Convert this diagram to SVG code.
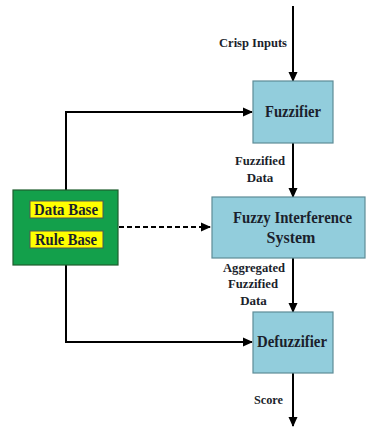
<svg xmlns="http://www.w3.org/2000/svg" width="367" height="427" viewBox="0 0 367 427">
<defs>
<marker id="ah" markerWidth="10" markerHeight="10" refX="9" refY="5" orient="auto" markerUnits="userSpaceOnUse">
<path d="M0,0.5 L10,5 L0,9.5 Z" fill="#000"/>
</marker>
<style>
.box{fill:#92CDDC;stroke:#5E8C97;stroke-width:1.2}
.t{font-family:"Liberation Serif","Times New Roman",serif;font-weight:bold;fill:#1b1f2c;text-anchor:middle}
.big{font-size:16px}
.sm{font-size:13px}
.ln{fill:none;stroke:#000;stroke-width:2}
</style>
</defs>
<rect width="367" height="427" fill="#fff"/>
<g id="connectors">
<line class="ln" x1="293" y1="6" x2="293" y2="81" marker-end="url(#ah)"/>
<line class="ln" x1="293" y1="143" x2="293" y2="197" marker-end="url(#ah)"/>
<line class="ln" x1="293" y1="258" x2="293" y2="312" marker-end="url(#ah)"/>
<line class="ln" x1="293" y1="373" x2="293" y2="426" marker-end="url(#ah)"/>
<polyline class="ln" points="66,190 66,112 252,112" marker-end="url(#ah)"/>
<polyline class="ln" points="66,265 66,342 252,342" marker-end="url(#ah)"/>
<line class="ln" x1="119" y1="227" x2="210" y2="227" stroke-dasharray="5,3" marker-end="url(#ah)"/>
<text class="t sm" x="253" y="47" textLength="68" lengthAdjust="spacingAndGlyphs">Crisp Inputs</text>
<text class="t sm" x="260" y="165" textLength="50" lengthAdjust="spacingAndGlyphs">Fuzzified</text>
<text class="t sm" x="260" y="182">Data</text>
<text class="t sm" x="254" y="272" textLength="62" lengthAdjust="spacingAndGlyphs">Aggregated</text>
<text class="t sm" x="253" y="288" textLength="50" lengthAdjust="spacingAndGlyphs">Fuzzified</text>
<text class="t sm" x="253.5" y="305">Data</text>
<text class="t sm" x="268.5" y="404" textLength="29" lengthAdjust="spacingAndGlyphs">Score</text>
</g>
<g id="fuzzifier">
<rect class="box" x="253" y="81" width="80" height="62"/>
<text class="t big" x="293" y="117" textLength="56" lengthAdjust="spacingAndGlyphs">Fuzzifier</text>
</g>
<g id="fis">
<rect class="box" x="212" y="197" width="153" height="61"/>
<text class="t big" x="292.5" y="222.5" textLength="119" lengthAdjust="spacingAndGlyphs">Fuzzy Interference</text>
<text class="t big" x="291" y="242.5">System</text>
</g>
<g id="defuzzifier">
<rect class="box" x="253" y="312" width="80" height="61"/>
<text class="t big" x="292" y="347" textLength="70" lengthAdjust="spacingAndGlyphs">Defuzzifier</text>
</g>
<g id="knowledge">
<rect x="13" y="190" width="105" height="75" fill="#13A04B" stroke="#1E5E2E" stroke-width="1.2"/>
<rect x="30" y="201" width="73" height="17" fill="#FFFF00" stroke="#555" stroke-width="1"/>
<text class="t big" x="66" y="214.5" textLength="64" lengthAdjust="spacingAndGlyphs">Data Base</text>
<rect x="30" y="231" width="73" height="17" fill="#FFFF00" stroke="#555" stroke-width="1"/>
<text class="t big" x="66" y="244.5" textLength="62" lengthAdjust="spacingAndGlyphs">Rule Base</text>
</g>
</svg>
